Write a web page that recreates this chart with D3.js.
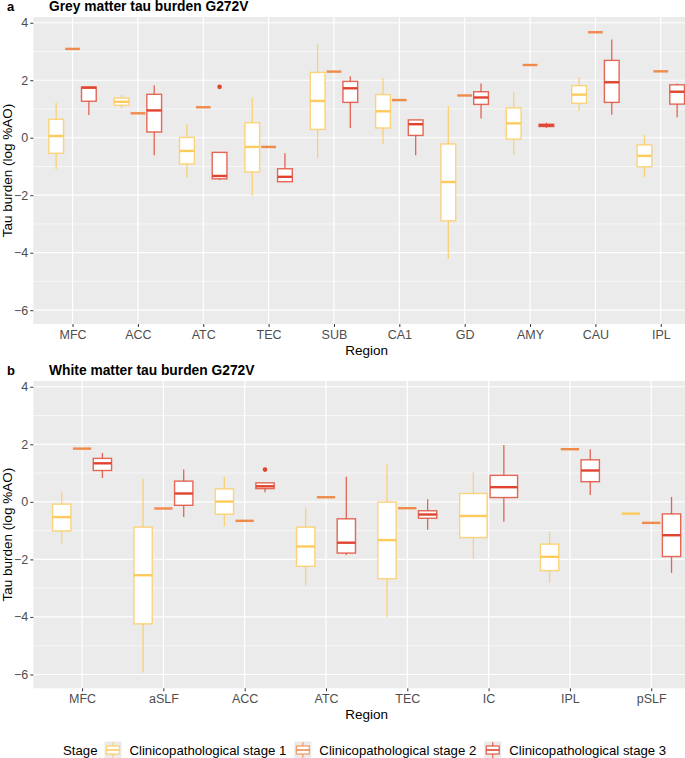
<!DOCTYPE html>
<html>
<head>
<meta charset="utf-8">
<script src="https://cdn.jsdelivr.net/npm/d3@7"></script>
<style>
  body { margin: 0; background: #fff; }
  svg { display: block; font-family: "Liberation Sans", Arial, sans-serif; }
</style>
</head>
<body>
<svg id="chart" width="685" height="758"></svg>
<script>
// ---- data (box stats: [lower whisker, q1, median, q3, upper whisker]) ----
const stages = ["Clinicopathological stage 1", "Clinicopathological stage 2", "Clinicopathological stage 3"];
const stageColors = ["#FDCB5C", "#F08A4B", "#E0432E"];
const yTicks = [-6, -4, -2, 0, 2, 4];
const yMinor = [-5, -3, -1, 1, 3];

const greyRegions = ["MFC", "ACC", "ATC", "TEC", "SUB", "CA1", "GD", "AMY", "CAU", "IPL"];
const greyStage1 = [
  [-1.10, -0.54, 0.06, 0.64, 1.22],
  [1.02, 1.13, 1.25, 1.38, 1.49],
  [-1.38, -0.91, -0.46, 0.01, 0.48],
  [-2.02, -1.19, -0.32, 0.52, 1.39],
  [-0.70, 0.29, 1.28, 2.27, 3.26],
  [-0.23, 0.34, 0.92, 1.50, 2.08],
  [-4.21, -2.89, -1.54, -0.22, 1.10],
  [-0.58, -0.05, 0.50, 1.04, 1.58],
  [0.93, 1.20, 1.50, 1.81, 2.10],
  [-1.38, -1.01, -0.63, -0.25, 0.10]
];
const greyStage2 = [
  [3.09, 3.09, 3.09, 3.09, 3.09],
  [0.85, 0.85, 0.85, 0.85, 0.85],
  [1.06, 1.06, 1.06, 1.06, 1.06],
  [-0.32, -0.32, -0.32, -0.32, -0.32],
  [2.30, 2.30, 2.30, 2.30, 2.30],
  [1.31, 1.31, 1.31, 1.31, 1.31],
  [1.47, 1.47, 1.47, 1.47, 1.47],
  [2.53, 2.53, 2.53, 2.53, 2.53],
  [3.67, 3.67, 3.67, 3.67, 3.67],
  [2.31, 2.31, 2.31, 2.31, 2.31]
];
const greyStage3 = [
  [0.79, 1.27, 1.74, 1.76, 1.78],
  [-0.61, 0.20, 0.95, 1.51, 1.83],
  [-1.47, -1.43, -1.33, -0.51, -0.51],
  [-1.53, -1.53, -1.36, -1.08, -0.54],
  [0.34, 1.23, 1.72, 1.96, 2.14],
  [-0.61, 0.08, 0.47, 0.62, 0.62],
  [0.67, 1.16, 1.40, 1.60, 1.89],
  [0.34, 0.39, 0.43, 0.47, 0.52],
  [0.80, 1.23, 1.93, 2.69, 3.42],
  [0.71, 1.17, 1.60, 1.84, 1.89]
];
const greyOutliers = [{ region: "ATC", stage: 2, value: 1.77 }];

const whiteRegions = ["MFC", "aSLF", "ACC", "ATC", "TEC", "IC", "IPL", "pSLF"];
const whiteStage1 = [
  [-1.45, -1.01, -0.53, -0.08, 0.36],
  [-5.93, -4.24, -2.55, -0.88, 0.80],
  [-0.86, -0.43, 0.01, 0.45, 0.87],
  [-2.91, -2.24, -1.55, -0.88, -0.20],
  [-4.00, -2.67, -1.33, -0.01, 1.32],
  [-1.98, -1.24, -0.49, 0.29, 1.04],
  [-2.81, -2.39, -1.91, -1.47, -1.04],
  [-0.41, -0.41, -0.41, -0.41, -0.41]
];
const whiteStage2 = [
  [1.85, 1.85, 1.85, 1.85, 1.85],
  [-0.23, -0.23, -0.23, -0.23, -0.23],
  [-0.66, -0.66, -0.66, -0.66, -0.66],
  [0.16, 0.16, 0.16, 0.16, 0.16],
  [-0.22, -0.22, -0.22, -0.22, -0.22],
  null,
  [1.83, 1.83, 1.83, 1.83, 1.83],
  [-0.73, -0.73, -0.73, -0.73, -0.73]
];
const whiteStage3 = [
  [0.83, 1.09, 1.34, 1.51, 1.70],
  [-0.53, -0.12, 0.29, 0.72, 1.12],
  [0.33, 0.46, 0.54, 0.66, 0.66],
  [-1.85, -1.78, -1.42, -0.59, 0.87],
  [-0.97, -0.57, -0.44, -0.31, 0.09],
  [-0.69, 0.15, 0.51, 0.92, 1.98],
  [0.24, 0.70, 1.09, 1.46, 1.83],
  [-2.47, -1.90, -1.16, -0.42, 0.17]
];
const whiteOutliers = [{ region: "ACC", stage: 2, value: 1.12 }];

// ---- layout ----
const svg = d3.select("#chart");
const plotLeft = 33.3, plotRight = 700;
const yDomain = [-6.48, 4.2];

function drawPanel({ tag, title, top, bottom, regions, series, outliers }) {
  const g = svg.append("g");
  const x = d3.scalePoint().domain(regions).range([plotLeft, plotRight]).padding(0.6);
  const y = d3.scaleLinear().domain(yDomain).range([bottom, top]);
  const step = x.step();

  // background + grid
  g.append("rect")
    .attr("x", plotLeft).attr("y", top)
    .attr("width", plotRight - plotLeft).attr("height", bottom - top)
    .attr("fill", "#EBEBEB");

  g.selectAll("line.minor").data(yMinor).enter().append("line")
    .attr("x1", plotLeft).attr("x2", plotRight)
    .attr("y1", d => y(d)).attr("y2", d => y(d))
    .attr("stroke", "#fff").attr("stroke-width", 0.6);

  g.selectAll("line.major").data(yTicks).enter().append("line")
    .attr("x1", plotLeft).attr("x2", plotRight)
    .attr("y1", d => y(d)).attr("y2", d => y(d))
    .attr("stroke", "#fff").attr("stroke-width", 1.2);

  g.selectAll("line.vgrid").data(regions).enter().append("line")
    .attr("x1", d => x(d)).attr("x2", d => x(d))
    .attr("y1", top).attr("y2", bottom)
    .attr("stroke", "#fff").attr("stroke-width", 1.2);

  // axes
  const yAxis = d3.axisLeft(y).tickValues(yTicks).tickSize(3).tickPadding(2);
  const ya = g.append("g").attr("transform", `translate(${plotLeft},0)`).call(yAxis);
  const xAxis = d3.axisBottom(x).tickSize(3).tickPadding(3);
  const xa = g.append("g").attr("transform", `translate(0,${bottom})`).call(xAxis);
  [ya, xa].forEach(a => {
    a.select(".domain").remove();
    a.selectAll(".tick line").attr("stroke", "#333").attr("stroke-width", 1);
    a.selectAll(".tick text").attr("fill", "#4D4D4D").style("font-size", "12.5px")
      .style("font-family", "\"Liberation Sans\", Arial, sans-serif");
  });

  // titles
  g.append("text").attr("x", 7).attr("y", top - 6).text(tag)
    .style("font-size", "13px").style("font-weight", "bold").attr("fill", "#000");
  g.append("text").attr("x", 49).attr("y", top - 6).text(title)
    .style("font-size", "13.8px").style("font-weight", "bold").attr("fill", "#000");
  g.append("text").attr("x", (plotLeft + plotRight) / 2).attr("y", bottom + 31)
    .attr("text-anchor", "middle").text("Region")
    .style("font-size", "13.5px").attr("fill", "#000");
  g.append("text")
    .attr("transform", `translate(12,${(top + bottom) / 2}) rotate(-90)`)
    .attr("text-anchor", "middle").text("Tau burden (log %AO)")
    .style("font-size", "13.5px").attr("fill", "#000");

  // boxes, dodged by stage among the stages present in each region
  const boxes = [];
  regions.forEach((r, ri) => {
    const present = series.map((s, si) => ({ si, st: s[ri] })).filter(d => d.st);
    const slot = 0.75 / present.length;
    present.forEach((d, k) => {
      const off = (k - (present.length - 1) / 2) * slot;
      boxes.push({ region: r, stage: d.si, stats: d.st, cx: x(r) + off * step, w: slot * 0.9 * step });
    });
  });

  const bg = g.selectAll("g.box").data(boxes).enter().append("g").attr("class", "box");
  bg.append("line")
    .attr("x1", d => d.cx).attr("x2", d => d.cx)
    .attr("y1", d => y(d.stats[4])).attr("y2", d => y(d.stats[3]))
    .attr("stroke", d => stageColors[d.stage]).attr("stroke-width", 1.3).attr("stroke-opacity", 0.8);
  bg.append("line")
    .attr("x1", d => d.cx).attr("x2", d => d.cx)
    .attr("y1", d => y(d.stats[1])).attr("y2", d => y(d.stats[0]))
    .attr("stroke", d => stageColors[d.stage]).attr("stroke-width", 1.3).attr("stroke-opacity", 0.8);
  bg.append("rect")
    .attr("x", d => d.cx - d.w / 2).attr("width", d => d.w)
    .attr("y", d => y(d.stats[3])).attr("height", d => y(d.stats[1]) - y(d.stats[3]))
    .attr("fill", "#fff")
    .attr("stroke", d => stageColors[d.stage]).attr("stroke-width", 1.4).attr("stroke-opacity", 0.8);
  bg.append("line")
    .attr("x1", d => d.cx - d.w / 2).attr("x2", d => d.cx + d.w / 2)
    .attr("y1", d => y(d.stats[2])).attr("y2", d => y(d.stats[2]))
    .attr("stroke", d => stageColors[d.stage]).attr("stroke-width", 2.4);

  // outliers
  g.selectAll("circle.out").data(outliers).enter().append("circle")
    .attr("cx", d => {
      const b = boxes.find(b => b.region === d.region && b.stage === d.stage);
      return b.cx;
    })
    .attr("cy", d => y(d.value)).attr("r", 2.3)
    .attr("fill", d => stageColors[d.stage]);
}

drawPanel({
  tag: "a", title: "Grey matter tau burden G272V", top: 17, bottom: 324,
  regions: greyRegions, series: [greyStage1, greyStage2, greyStage3], outliers: greyOutliers
});
drawPanel({
  tag: "b", title: "White matter tau burden G272V", top: 381, bottom: 688.3,
  regions: whiteRegions, series: [whiteStage1, whiteStage2, whiteStage3], outliers: whiteOutliers
});

// legend
const leg = svg.append("g").attr("transform", "translate(0,750)");
const legTitle = leg.append("text").attr("x", 63).attr("y", 5).text("Stage")
  .style("font-size", "13.2px").attr("fill", "#000");
let lx = 63 + legTitle.node().getComputedTextLength() + 7;
stages.forEach((s, i) => {
  const k = leg.append("g").attr("transform", `translate(${lx},-8.5)`);
  k.append("rect").attr("width", 17).attr("height", 17).attr("fill", "#EBEBEB");
  k.append("line").attr("x1", 8.5).attr("x2", 8.5).attr("y1", 0.5).attr("y2", 16.5)
    .attr("stroke", stageColors[i]).attr("stroke-width", 1.2).attr("stroke-opacity", 0.8);
  k.append("rect").attr("x", 2).attr("y", 4.5).attr("width", 13).attr("height", 8)
    .attr("fill", "#fff").attr("stroke", stageColors[i]).attr("stroke-width", 1.3).attr("stroke-opacity", 0.8);
  k.append("line").attr("x1", 2).attr("x2", 15).attr("y1", 8.5).attr("y2", 8.5)
    .attr("stroke", stageColors[i]).attr("stroke-width", 1.6);
  const t = leg.append("text").attr("x", lx + 17 + 8).attr("y", 5).text(s)
    .style("font-size", "13.2px").attr("fill", "#000");
  lx += 17 + 8 + t.node().getComputedTextLength() + 8;
});
</script>
</body>
</html>
